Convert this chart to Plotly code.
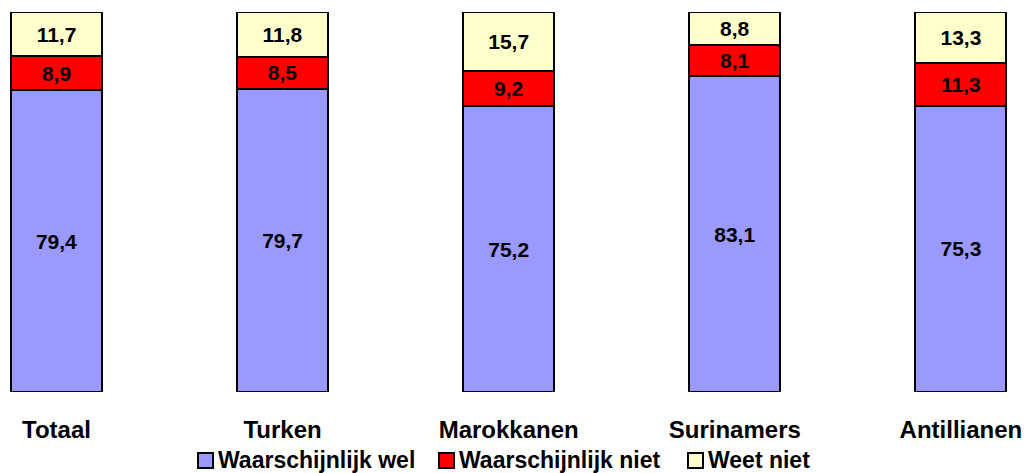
import plotly.graph_objects as go

categories = ["Totaal", "Turken", "Marokkanen", "Surinamers", "Antillianen"]
wel = [79.4, 79.7, 75.2, 83.1, 75.3]
niet = [8.9, 8.5, 9.2, 8.1, 11.3]
weet_niet = [11.7, 11.8, 15.7, 8.8, 13.3]

series = [
    ("Waarschijnlijk wel", wel, "#9999FF"),
    ("Waarschijnlijk niet", niet, "#FF0000"),
    ("Weet niet", weet_niet, "#FFFFCC"),
]

FONT = "Liberation Sans, Arial, sans-serif"
W, H = 1024, 473
MT, MB = 12, 473 - 392
PH = H - MT - MB
xs = list(range(len(categories)))
STEP = 226.1
C0 = 56.5

fig = go.Figure()
for name, vals, color in series:
    fig.add_trace(go.Bar(
        x=xs, y=vals, name=name,
        marker=dict(color=color, line=dict(color="black", width=2)),
        width=0.402,
        text=[f"{v:.1f}".replace(".", ",") for v in vals],
        textposition="inside", insidetextanchor="middle",
        textfont=dict(family=FONT, size=21, color="black", weight="bold"),
        textangle=0,
        hoverinfo="skip",
        showlegend=False,
    ))

# manual legend (pixel positions -> paper coords)
def px(x):
    return x / W

def py(y):
    return (H - MB - y) / PH

legend_items = [(198, "Waarschijnlijk wel", "#9999FF"),
                (439, "Waarschijnlijk niet", "#FF0000"),
                (688, "Weet niet", "#FFFFCC")]
shapes = []
annotations = []
for x0, label, color in legend_items:
    shapes.append(dict(type="rect", xref="paper", yref="paper",
                       x0=px(x0), x1=px(x0 + 15), y0=py(468), y1=py(453),
                       fillcolor=color, line=dict(color="black", width=2)))
    annotations.append(dict(xref="paper", yref="paper", x=px(x0 + 18), y=py(460),
                            xanchor="left", yanchor="middle", showarrow=False,
                            text=label,
                            font=dict(family=FONT, size=23, color="black", weight="bold")))

fig.update_layout(
    barmode="stack",
    width=W, height=H,
    margin=dict(l=0, r=0, t=MT, b=MB),
    paper_bgcolor="white", plot_bgcolor="white",
    uniformtext=dict(minsize=21, mode="show"),
    xaxis=dict(range=[-C0 / STEP, (W - C0) / STEP], tickvals=xs, ticktext=categories,
               showgrid=False, zeroline=False, showline=False, automargin=False,
               ticks="outside", ticklen=16, tickcolor="rgba(0,0,0,0)",
               tickfont=dict(family=FONT, size=24, color="black", weight="bold")),
    yaxis=dict(range=[0, 100], visible=False, automargin=False),
    showlegend=False,
    shapes=shapes,
    annotations=annotations,
)

fig.write_html(
    "out.html",
    config={"displayModeBar": False, "staticPlot": True},
    post_script="document.body.style.margin='0';document.body.style.overflow='hidden';",
)
